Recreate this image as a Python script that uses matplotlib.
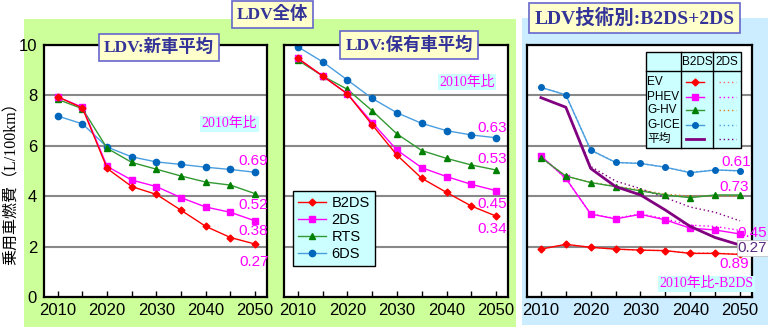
import matplotlib.pyplot as plt
from matplotlib.patches import Rectangle
from matplotlib.lines import Line2D

# 年次
years = [2010, 2015, 2020, 2025, 2030, 2035, 2040, 2045, 2050]

# LDV 新車平均 (L/100km)
new_b2ds = [7.94, 7.50, 5.10, 4.38, 4.07, 3.44, 2.80, 2.36, 2.10]
new_2ds = [7.94, 7.53, 5.18, 4.64, 4.38, 3.94, 3.57, 3.36, 3.02]
new_rts = [7.84, 7.47, 5.90, 5.34, 5.07, 4.80, 4.56, 4.44, 4.10]
new_6ds = [7.18, 6.87, 5.95, 5.56, 5.36, 5.26, 5.15, 5.06, 4.95]
new_ratio = ["0.27", "0.38", "0.52", "0.69"]
new_ratio_y = [1.39, 2.62, 3.65, 5.40]

# LDV 保有車平均 (L/100km)
stock_b2ds = [9.47, 8.77, 8.06, 6.83, 5.63, 4.71, 4.15, 3.61, 3.21]
stock_2ds = [9.47, 8.77, 8.06, 6.92, 5.83, 5.13, 4.78, 4.47, 4.22]
stock_rts = [9.40, 8.77, 8.24, 7.39, 6.47, 5.81, 5.50, 5.24, 5.04]
stock_6ds = [9.93, 9.33, 8.61, 7.88, 7.31, 6.89, 6.60, 6.43, 6.32]
stock_ratio = ["0.34", "0.45", "0.53", "0.63"]
stock_ratio_y = [2.70, 3.69, 5.48, 6.71]

# LDV 技術別 B2DS (実線) / 2DS (点線)
ev_b2ds = [1.90, 2.09, 1.97, 1.90, 1.86, 1.84, 1.73, 1.73, 1.69]
phev_b2ds = [5.60, 4.71, 3.29, 3.10, 3.28, 3.06, 2.73, 2.66, 2.50]
ghv_b2ds = [5.53, 4.80, 4.54, 4.38, 4.21, 4.05, 3.94, 4.05, 4.05]
gice_b2ds = [8.32, 8.02, 5.83, 5.34, 5.30, 5.15, 4.93, 5.04, 5.01]
avg_b2ds = [7.91, 7.53, 5.10, 4.38, 4.05, 3.45, 2.80, 2.36, 2.06]
ev_2ds = [1.90, 2.08, 1.97, 1.90, 1.86, 1.84, 1.75, 1.74, 1.70]
phev_2ds = [5.60, 4.70, 3.30, 3.12, 3.30, 3.10, 2.85, 2.80, 2.64]
ghv_2ds = [5.53, 4.80, 4.55, 4.40, 4.25, 4.08, 4.00, 4.02, 4.00]
gice_2ds = [8.32, 8.02, 5.83, 5.34, 5.30, 5.15, 4.95, 5.04, 5.00]
avg_2ds = [7.91, 7.53, 5.18, 4.60, 4.30, 3.94, 3.57, 3.36, 3.02]
tech_labels = ["EV", "PHEV", "G-HV", "G-ICE", "平均"]

RED = "#FF0000"
MAG = "#FF00FF"
GRN = "#008000"
GRN_L = "#339933"
BLU = "#0066BB"
BLU_L = "#4A9EE0"
PUR = "#800080"

SERIF_JP = ["Liberation Serif", "Noto Sans CJK JP"]
NARROW = ["Liberation Sans Narrow", "Liberation Sans"]
NARROW_JP = ["Liberation Sans Narrow", "Liberation Sans", "Noto Sans CJK JP"]

fig = plt.figure(figsize=(7.68, 3.31), dpi=100)
W, H = 768.0, 331.0


def px_box(x0, y0, x1, y1):
    # pixel box (top-left origin) -> figure fraction rect
    return [x0 / W, 1 - y1 / H, (x1 - x0) / W, (y1 - y0) / H]


# background panels
fig.add_artist(Rectangle((24 / W, 1 - 327 / H), (516 - 24) / W, (327 - 19) / H,
                         transform=fig.transFigure, facecolor="#CCFF99",
                         edgecolor="none", zorder=0))
fig.add_artist(Rectangle((522 / W, 1 - 325 / H), (768 - 522) / W, (325 - 18) / H,
                         transform=fig.transFigure, facecolor="#CCECFF",
                         edgecolor="none", zorder=0))

ax1 = fig.add_axes(px_box(44, 45, 267, 297))
ax2 = fig.add_axes(px_box(284, 45, 508, 297))
ax3 = fig.add_axes(px_box(527, 45, 752, 297))


def setup(ax, show_y):
    ax.set_facecolor("white")
    ax.set_xlim(2007.2, 2052.4)
    ax.set_ylim(0, 10)
    ax.set_xticks([2010, 2020, 2030, 2040, 2050])
    ax.set_xticks(range(2010, 2051, 5), minor=True)
    ax.set_yticks(range(0, 11, 2))
    ax.yaxis.grid(True, color="#888888", lw=1.5)
    ax.set_axisbelow(True)
    ax.tick_params(axis="x", which="both", direction="in", length=4, width=1, pad=4)
    ax.tick_params(axis="y", length=0, pad=5)
    for lab in ax.get_xticklabels() + ax.get_yticklabels():
        lab.set_fontfamily(NARROW)
        lab.set_fontsize(12)
    if not show_y:
        ax.set_yticklabels([])
    for sp in ax.spines.values():
        sp.set_linewidth(1.6)
        sp.set_color("black")


for ax, show in ((ax1, True), (ax2, False), (ax3, False)):
    setup(ax, show)


def scenario_lines(ax, b2ds, s2ds, rts, s6ds):
    ax.plot(years, s6ds, color=BLU_L, lw=1, marker="o", ms=4.5, mfc=BLU, mec=BLU, label="6DS")
    ax.plot(years, rts, color=GRN_L, lw=1, marker="^", ms=5, mfc=GRN, mec=GRN, label="RTS")
    ax.plot(years, s2ds, color=MAG, lw=1, marker="s", ms=5, label="2DS")
    ax.plot(years, b2ds, color=RED, lw=1, marker="D", ms=3.5, label="B2DS")


scenario_lines(ax1, new_b2ds, new_2ds, new_rts, new_6ds)
scenario_lines(ax2, stock_b2ds, stock_2ds, stock_rts, stock_6ds)

num_kw = dict(fontsize=11, ha="center", va="center", family=NARROW)
for lab, y in zip(new_ratio, new_ratio_y):
    ax1.text(2049.7, y, lab, color=MAG, **num_kw)
for lab, y in zip(stock_ratio, stock_ratio_y):
    ax2.text(2049.3, y, lab, color=MAG, **num_kw)

box_ratio = dict(boxstyle="square,pad=0.1", facecolor="#CCFFFF", edgecolor="none")
ax1.text(2044.8, 6.87, "2010年比", color=MAG, fontsize=10, ha="center", va="center",
         family=SERIF_JP, bbox=box_ratio)
ax2.text(2044.1, 8.53, "2010年比", color=MAG, fontsize=10, ha="center", va="center",
         family=SERIF_JP, bbox=box_ratio)

# legend for the scenario panels
h, l = ax2.get_legend_handles_labels()
leg = ax2.legend(h[::-1], l[::-1], loc="lower left", bbox_to_anchor=(0.04, 0.123),
                 borderaxespad=0, fancybox=False, framealpha=1, facecolor="#CCFFFF",
                 edgecolor="black", prop={"family": "Liberation Sans", "size": 10.5},
                 handlelength=1.9, handletextpad=0.4, labelspacing=0.2, borderpad=0.35)
leg.get_frame().set_linewidth(1)

# technology panel
tech_b2ds = [ev_b2ds, phev_b2ds, ghv_b2ds, gice_b2ds]
tech_2ds = [ev_2ds, phev_2ds, ghv_2ds, gice_2ds]
tech_line = [RED, MAG, GRN_L, BLU_L]
tech_face = [RED, MAG, GRN, BLU]
tech_dot = ["#FF6666", MAG, "#E08020", BLU_L]
tech_mark = ["D", "s", "^", "o"]
tech_ms = [3.5, 4.5, 5, 4]

for vals, c in zip(tech_2ds, tech_dot):
    ax3.plot(years, vals, color=c, lw=1, ls=(0, (1, 2)))
ax3.plot(years, avg_2ds, color=PUR, lw=1, ls=(0, (1, 2)))
for vals, c, fc, m, ms in zip(tech_b2ds, tech_line, tech_face, tech_mark, tech_ms):
    ax3.plot(years, vals, color=c, lw=1, marker=m, ms=ms, mfc=fc, mec=fc)
ax3.plot(years, avg_b2ds, color=PUR, lw=2)

ax3.text(2049.3, 5.36, "0.61", color=MAG, **num_kw)
ax3.text(2048.9, 4.37, "0.73", color=MAG, **num_kw)
ax3.text(2052.5, 2.54, "0.45", color=MAG, **num_kw)
ax3.text(2052.5, 1.94, "0.27", color="#5A2A80",
         bbox=dict(boxstyle="square,pad=0.05", facecolor="white", edgecolor="#BBBBBB", lw=0.5),
         **num_kw)
ax3.text(2048.9, 1.31, "0.89", color=MAG, **num_kw)
ax3.text(2043.3, 0.52, "2010年比-B2DS", color=MAG, fontsize=10, ha="center", va="center",
         family=SERIF_JP, bbox=box_ratio)

# technology legend table
tx0, tx1 = 0.529, 0.951
ty0, ty1 = 0.591, 0.972
ax3.add_patch(Rectangle((tx0, ty0), tx1 - tx0, ty1 - ty0, transform=ax3.transAxes,
                        facecolor="#CCFFFF", edgecolor="black", lw=1, zorder=5))
for xv in (0.684, 0.827):
    ax3.add_line(Line2D([xv, xv], [ty0, ty1], transform=ax3.transAxes, color="black",
                        lw=1, zorder=6))
ax3.add_line(Line2D([tx0, tx1], [0.897, 0.897], transform=ax3.transAxes, color="black",
                    lw=1, zorder=6))
ax3.text(0.756, 0.934, "B2DS", transform=ax3.transAxes, ha="center", va="center",
         fontsize=8.5, family=NARROW, zorder=7)
ax3.text(0.889, 0.934, "2DS", transform=ax3.transAxes, ha="center", va="center",
         fontsize=8.5, family=NARROW, zorder=7)
row_y = [0.853, 0.794, 0.742, 0.683, 0.627]
for i, (lab, ry) in enumerate(zip(tech_labels, row_y)):
    ax3.text(0.535, ry, lab, transform=ax3.transAxes, ha="left", va="center",
             fontsize=8.5, family=NARROW_JP, zorder=7)
    if i < 4:
        ax3.add_line(Line2D([0.707, 0.787], [ry, ry], transform=ax3.transAxes,
                            color=tech_line[i], lw=1, zorder=7))
        ax3.add_line(Line2D([0.747], [ry], transform=ax3.transAxes, marker=tech_mark[i],
                            ms=tech_ms[i], color=tech_face[i], ls="none", zorder=8))
        dot_c = tech_dot[i]
    else:
        ax3.add_line(Line2D([0.707, 0.787], [ry, ry], transform=ax3.transAxes,
                            color=PUR, lw=2, zorder=7))
        dot_c = PUR
    ax3.add_line(Line2D([0.853, 0.929], [ry, ry], transform=ax3.transAxes,
                        color=dot_c, lw=1, ls=(0, (1, 2)), zorder=7))

# titles
title_box = dict(boxstyle="square,pad=0.3", facecolor="#FFFFCC", edgecolor="#6666CC", lw=1.2)
title_kw = dict(color="#333399", fontsize=12.5, fontweight="bold", family=SERIF_JP,
                ha="center", va="center", bbox=title_box, zorder=10)
ax1.text(0.516, 0.99, "LDV:新車平均", transform=ax1.transAxes, **title_kw)
ax2.text(0.558, 1.0, "LDV:保有車平均", transform=ax2.transAxes, **title_kw)
fig.text(272.5 / W, 1 - 14.5 / H, "LDV全体", **title_kw)
fig.text(634.5 / W, 1 - 18 / H, "LDV技術別:B2DS+2DS", **dict(title_kw, fontsize=14))

# y axis title
fig.text(12 / W, 1 - 180 / H, "乗用車燃費（L/100km）", rotation=90, ha="center",
         va="center", fontsize=11.5, family=SERIF_JP)

fig.savefig("out.png", dpi=100)
